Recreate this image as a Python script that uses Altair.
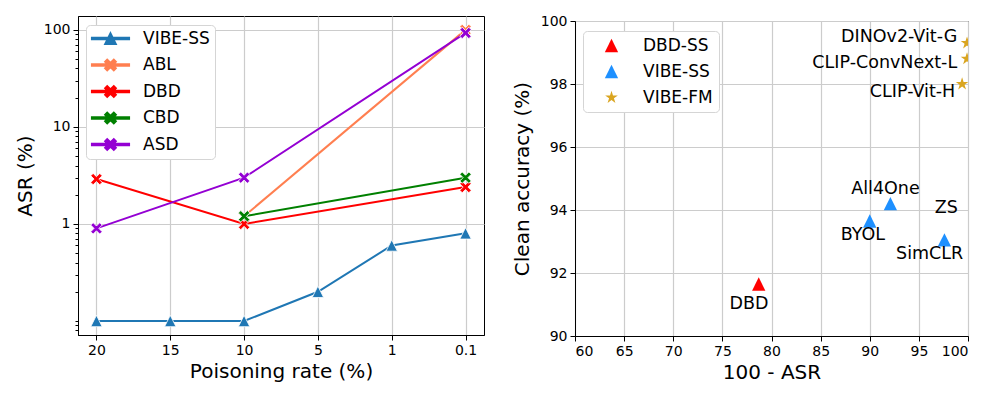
import json
import altair as alt
import pandas as pd

# ---------------- data: left panel ----------------
rates = ["20", "15", "10", "5", "1", "0.1"]
series_names = ["VIBE-SS", "ABL", "DBD", "CBD", "ASD"]
series_colors = ["#1f77b4", "#ff7f50", "#ff0000", "#008000", "#9400d3"]
asr_vibe_ss = [0.1, 0.1, 0.1, 0.2, 0.6, 0.8]
asr_abl = [None, None, 1.2, None, None, 100]
asr_dbd = [2.9, None, 1.0, None, None, 2.4]
asr_cbd = [None, None, 1.2, None, None, 3.0]
asr_asd = [0.9, None, 3.0, None, None, 93]
y_major = [1, 10, 100]
y_minor = [0.08, 0.09, 0.1, 0.2, 0.3, 0.4, 0.5, 0.6, 0.7, 0.8, 0.9,
           2, 3, 4, 5, 6, 7, 8, 9, 20, 30, 40, 50, 60, 70, 80, 90]

# ---------------- data: right panel ----------------
groups = ["DBD-SS", "VIBE-SS", "VIBE-FM"]
group_colors = ["#ff0000", "#1e90ff", "#daa520"]
pt_name = ["DBD", "BYOL", "All4One", "SimCLR", "DINOv2-Vit-G", "CLIP-ConvNext-L", "CLIP-Vit-H"]
pt_group = ["DBD-SS", "VIBE-SS", "VIBE-SS", "VIBE-SS", "VIBE-FM", "VIBE-FM", "VIBE-FM"]
pt_x = [78.7, 90.0, 92.1, 97.6, 99.9, 99.9, 99.4]
pt_y = [91.65, 93.65, 94.2, 93.05, 99.3, 98.8, 98.0]
lbl_text = ["DBD", "BYOL", "All4One", "ZS", "SimCLR", "DINOv2-Vit-G", "CLIP-ConvNext-L", "CLIP-Vit-H"]
lbl_x = [77.7, 89.3, 91.6, 97.8, 96.1, 98.9, 98.9, 98.7]
lbl_y = [91.02, 93.2, 94.67, 94.06, 92.6, 99.49, 98.67, 97.75]
lbl_align = ["center", "center", "center", "center", "center", "right", "right", "right"]

# ---------------- marker paths ----------------
TRI = "M0,-1L1,1L-1,1Z"
XP = ("M0,-0.42L0.58,-1L1,-0.58L0.42,0L1,0.58L0.58,1L0,0.42L-0.58,1"
      "L-1,0.58L-0.42,0L-1,-0.58L-0.58,-1Z")
STAR = ("M0,-1L0.2245,-0.309L0.9511,-0.309L0.3633,0.118L0.5878,0.809L0,0.382"
        "L-0.5878,0.809L-0.3633,0.118L-0.9511,-0.309L-0.2245,-0.309Z")
LINE = "M-3.3,-0.17L3.3,-0.17L3.3,0.17L-3.3,0.17Z"
legend_paths = [TRI + LINE] + [XP + LINE] * 4

# ---------------- build tables ----------------
rows = []
for name, vals in zip(series_names, [asr_vibe_ss, asr_abl, asr_dbd, asr_cbd, asr_asd]):
    for i, v in enumerate(vals):
        if v is not None:
            rows.append({"series": name, "idx": i, "asr": v})
df_l = pd.DataFrame(rows)
df_p = pd.DataFrame({"name": pt_name, "group": pt_group, "x": pt_x, "y": pt_y})
df_t = pd.DataFrame({"text": lbl_text, "x": lbl_x, "y": lbl_y, "align": lbl_align})

FONT = "DejaVu Sans"
GRID = "#cccccc"

major_test = "datum.value == 1 || datum.value == 10 || datum.value == 100"

xl = alt.X("idx:Q",
           scale=alt.Scale(domain=[-0.25, 5.25], nice=False, zero=False),
           axis=alt.Axis(values=list(range(len(rates))),
                         labelExpr=json.dumps(rates) + "[datum.value]",
                         title="Poisoning rate (%)", titlePadding=4))
yl = alt.Y("asr:Q",
           scale=alt.Scale(type="log", domain=[0.0717, 139], nice=False),
           axis=alt.Axis(values=y_major + y_minor,
                         labelExpr="(" + major_test + ") ? format(datum.value, 'd') : ''",
                         tickSize={"condition": {"test": major_test, "value": 5}, "value": 3},
                         gridOpacity={"condition": {"test": major_test, "value": 1}, "value": 0},
                         title="ASR (%)", titlePadding=8))
cscale_l = alt.Scale(domain=series_names, range=series_colors)

legend_l = alt.Legend(title=None, orient="none", legendX=8, legendY=9, padding=5,
                      labelFontSize=17, labelFont=FONT, labelColor="black",
                      symbolSize=130, symbolOpacity=1, symbolOffset=11, labelOffset=24,
                      rowPadding=7.5, strokeColor="#d5d5d5", cornerRadius=4,
                      fillColor="white")

base_l = alt.Chart(df_l)
leg_layer = base_l.mark_point(filled=True, opacity=0).encode(
    x=xl, y=yl,
    color=alt.Color("series:N", scale=cscale_l, legend=legend_l),
    shape=alt.Shape("series:N", scale=alt.Scale(domain=series_names, range=legend_paths),
                    legend=legend_l))
lines = base_l.mark_line(strokeWidth=2).encode(
    x=xl, y=yl, color=alt.Color("series:N", scale=cscale_l))
pts_tri = base_l.transform_filter(alt.datum.series == "VIBE-SS").mark_point(
    filled=True, opacity=1, size=130, stroke="white", strokeWidth=0.8).encode(
    x=xl, y=yl, color=alt.Color("series:N", scale=cscale_l), shape=alt.value(TRI))
pts_x = base_l.transform_filter(alt.datum.series != "VIBE-SS").mark_point(
    filled=True, opacity=1, size=130, stroke="white", strokeWidth=0.8).encode(
    x=xl, y=yl, color=alt.Color("series:N", scale=cscale_l), shape=alt.value(XP))

left = alt.layer(leg_layer, lines, pts_tri, pts_x).properties(width=406, height=319)

# ---------------- right panel ----------------
xr = alt.X("x:Q", scale=alt.Scale(domain=[60, 100], nice=False, zero=False),
           axis=alt.Axis(values=[60, 65, 70, 75, 80, 85, 90, 95, 100], title="100 - ASR",
                         titlePadding=4, tickSize=5))
yr = alt.Y("y:Q", scale=alt.Scale(domain=[90, 100], nice=False, zero=False),
           axis=alt.Axis(values=[90, 92, 94, 96, 98, 100], title="Clean accuracy (%)",
                         titlePadding=8, tickSize=5))
legend_r = alt.Legend(title=None, orient="none", legendX=8, legendY=15, padding=6,
                      labelFontSize=17, labelFont=FONT, labelColor="black",
                      symbolSize=177, symbolOffset=14, labelOffset=23,
                      rowPadding=8, strokeColor="#d5d5d5", cornerRadius=4,
                      fillColor="white")
pts_r = alt.Chart(df_p).mark_point(filled=True, opacity=1, size=177, clip=True).encode(
    x=xr, y=yr,
    color=alt.Color("group:N", scale=alt.Scale(domain=groups, range=group_colors), legend=legend_r),
    shape=alt.Shape("group:N", scale=alt.Scale(domain=groups, range=[TRI, TRI, STAR]), legend=legend_r))
txt_c = alt.Chart(df_t).transform_filter(alt.datum.align == "center").mark_text(
    align="center", baseline="middle", fontSize=17.5, font=FONT, color="black").encode(
    x=xr, y=yr, text="text:N")
txt_r = alt.Chart(df_t).transform_filter(alt.datum.align == "right").mark_text(
    align="right", baseline="middle", fontSize=17.5, font=FONT, color="black").encode(
    x=xr, y=yr, text="text:N")

right_plot = alt.layer(pts_r, txt_c, txt_r).properties(width=393, height=315)

spacer = alt.Chart(pd.DataFrame({"v": [0]})).mark_rule(opacity=0).encode(
    x=alt.value(0)
).properties(width=393, height=1, view=alt.ViewBackground(strokeOpacity=0))

right = alt.vconcat(spacer, right_plot, spacing=-4)

chart = alt.hconcat(left, right, spacing=26).resolve_scale(
    color="independent", shape="independent"
).properties(
    padding={"left": 6, "top": 5, "right": 5, "bottom": 5}
).configure(font=FONT).configure_view(
    stroke="black", strokeWidth=1
).configure_axis(
    domainColor="black", tickColor="black", labelColor="black", titleColor="black",
    labelFontSize=14, titleFontSize=20, titleFontWeight="normal", labelFont=FONT,
    titleFont=FONT, labelPadding=3, gridColor=GRID, gridWidth=1.2, tickWidth=1
)

chart.save("out.html", embed_options={"renderer": "svg", "actions": False})
